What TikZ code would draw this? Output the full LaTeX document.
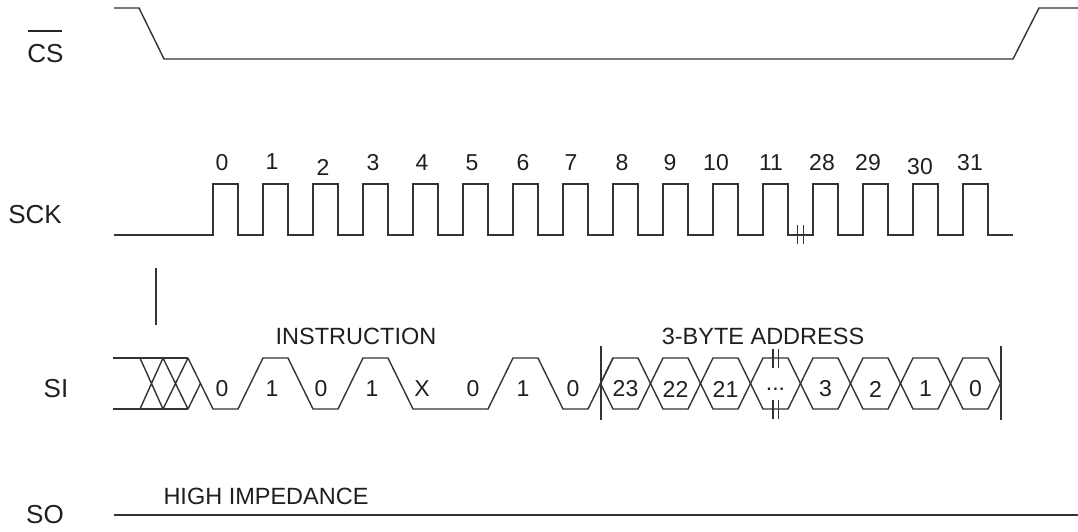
\documentclass[tikz,border=0pt]{standalone}
\usepackage{fontspec}
\setmainfont{Liberation Sans}
\newcommand\mydotstxt{...}
\begin{document}
\begin{tikzpicture}[x=1pt,y=-1pt,
  wave/.style={line width=1.4pt,draw=black!80,line join=miter},
  thin/.style={line width=1.1pt,draw=black!80},
  sig/.style={font=\fontsize{26}{30}\selectfont,text=black!88,inner sep=0pt},
  lbl/.style={font=\fontsize{23.5}{28}\selectfont,text=black!88,inner sep=0pt},
  num/.style={font=\fontsize{23}{27}\selectfont,text=black!88,inner sep=0pt}]
\useasboundingbox (0,0) rectangle (1078,531);
% signal names
\node[sig] (cs) at (45.5,54) {CS};
\draw[line width=1.6pt,black!85] (28,31) -- (62,31);
\node[sig] (sck) at (35,215) {SCK};
\node[sig] (si) at (56,389) {SI};
\node[sig] (so) at (45,515) {SO};
% CS
\draw[wave] (114,8) -- (139,8) -- (164,59) -- (1013,59) -- (1039,8) -- (1078,8);
% SCK
\draw[wave] (114,235) foreach \r in {213,263,...,763} { -- (\r,235) -- (\r,184) -- (\r+25,184) -- (\r+25,235) }
  -- (813,235) foreach \r in {813,863,913,963} { -- (\r,235) -- (\r,184) -- (\r+25,184) -- (\r+25,235) } -- (1013,235);
\draw[thin] (797.5,225) -- (797.5,244) (803.5,225) -- (803.5,244);
\foreach \n/\x/\y in {0/222/163,1/272/162,2/323/167,3/373/163,4/422/163,5/472/163,6/523/163,7/571/163,8/622/163,9/670/163,10/716/163,11/771/163,28/822/163,29/868/163,30/920/167,31/970/163}
  \node[num] (c\n) at (\x,\y) {\n};
% SI reference line
\draw[thin] (156,268) -- (156,325);
% SI hatched start
\draw[wave] (113,358) -- (188,358) (113,409) -- (188,409);
\draw[wave] (140,358) -- (163,409) (140,409) -- (163,358) (163,358) -- (188,409) (163,409) -- (188,358);
\draw[wave] (188,409) -- (200.5,383.5);
\draw[wave] (188,358) -- (213,409) -- (238,409) -- (263,358) -- (288,358) -- (313,409) -- (338,409) -- (363,358) -- (388,358) -- (413,409) -- (488,409) -- (513,358) -- (538,358) -- (563,409) -- (588,409) -- (613,358);
% address hexes
\foreach \c in {600.5,650.5,...,950.5} {
  \draw[wave] (\c,383.5) -- (\c+12.5,358) -- (\c+37.5,358) -- (\c+50,383.5) -- (\c+37.5,409) -- (\c+12.5,409) -- cycle;
}
\draw[thin] (601,346) -- (601,420) (1001,346) -- (1001,420);
\draw[thin] (773,349) -- (773,368) (778.5,349) -- (778.5,368) (773,400) -- (773,419) (778.5,400) -- (778.5,419);
\foreach \t/\x [count=\i] in {0/222,1/272,0/321,1/372,X/422,0/473,1/523,0/573}
  \node[num] (b\i) at (\x,389) {\t};
\foreach \t/\x [count=\i] in {23/625.5,22/675.5,21/725.5,\mydotstxt/775.5,3/825.5,2/875.5,1/925.5,0/975.5}
  \node[num] (a\i) at (\x,389) {\t};
\node[lbl] (instr) at (356,336) {INSTRUCTION};
\node[lbl] (addr) at (763,336) {3-BYTE ADDRESS};
% SO
\draw[wave] (114,515) -- (1078,515);
\node[lbl] (hi) at (266,496) {HIGH IMPEDANCE};
\end{tikzpicture}
\end{document}
